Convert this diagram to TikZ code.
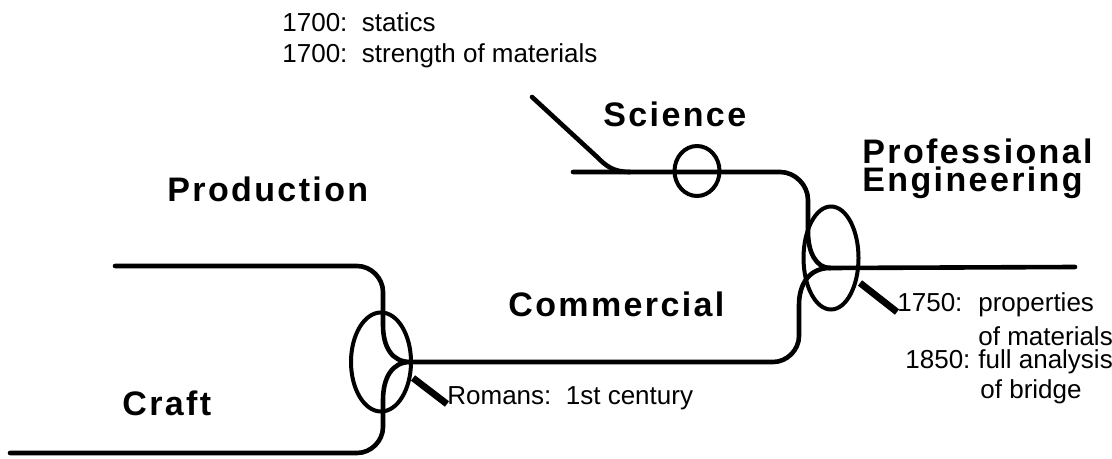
\documentclass[tikz,border=0pt]{standalone}
\usepackage{fontspec}
\setmainfont{Liberation Sans}
\newfontfamily\agfont[LetterSpace=7]{Liberation Sans}
\usetikzlibrary{shapes.geometric}

\begin{document}
\begin{tikzpicture}[x=0.5pt, y=-0.5pt,
        stream/.style={line width=2.3pt, line cap=round},
        hurok/.style={draw, ellipse, line width=2pt, inner sep=0pt},
        datetick/.style={line width=3.4pt},
        branch/.style={font=\agfont\bfseries\fontsize{17}{14}\selectfont, inner sep=0pt, anchor=base west},
        note/.style={font=\fontsize{13}{15.5}\selectfont, inner sep=0pt, anchor=base west}]
                % 0. A kep merete (pixelben)
                \useasboundingbox (0,0) rectangle (1112,459);

                % 1. Csomopontok es kezdopontok
                \coordinate (m-1) at (410,362);
                \coordinate (m-2) at (830,268);
                \coordinate (prod-0) at (115,266);
                \coordinate (craft-0) at (10,453);
                \coordinate (sci-0) at (573,172);
                \coordinate (stat-0) at (532,97);
                \coordinate (eng-1) at (1075,267);

                % 2. Az agak (vonalak)
                \draw[stream] (prod-0) -- (357,266) .. controls (371,266) and (383,278) .. (383,292)
                    -- (383,325) .. controls (383,347) and (392,362) .. (m-1);
                \draw[stream] (craft-0) -- (357,453) .. controls (371,453) and (383,441) .. (383,427)
                    -- (383,400) .. controls (383,378) and (392,362) .. (m-1);
                \draw[stream] (m-1) -- (773,362) .. controls (787,362) and (799,350) .. (799,336)
                    -- (799,305) .. controls (799,283) and (810,268) .. (m-2);
                \draw[stream] (sci-0) -- (780,172) .. controls (795,172) and (808,185) .. (808,200)
                    -- (808,232) .. controls (808,252) and (816,268) .. (m-2);
                \draw[stream] (stat-0) -- (596,156) .. controls (606,166) and (613,172) .. (630,172);
                \draw[stream] (m-2) -- (eng-1);

                % 3. Ovalis karikak a csomopontokon
                \node[hurok, minimum width=30pt, minimum height=49.5pt] (e-1) at (381,362) {};
                \node[hurok, minimum width=27.5pt, minimum height=51.5pt] (e-2) at (831,258) {};
                \node[hurok, minimum width=22.5pt, minimum height=25pt] (e-3) at (697,171) {};

                % 4. Feliratok
                \node[branch] (science) at (603,127) {Science};
                \node[branch] (production) at (167,202) {Production};
                \node[branch] (commercial) at (508,317) {Commercial};
                \node[branch] (craft) at (122,415) {Craft};
                \node[branch, align=left] (professional) at (862,192) {Professional\\Engineering};

                \node[note] (stat-1) at (282,32) {1700:\ \ statics};
                \node[note] (stat-2) at (282,63) {1700:\ \ strength of materials};
                \node[note] (romans) at (447,404) {Romans:\ \ 1st century};
                \node[note] (props-1) at (897,312) {\makebox[40.5pt][l]{1750:}properties};
                \node[note] (props-2) at (978,345) {of materials};
                \node[note] (props-3) at (905,368) {\makebox[36.5pt][l]{1850:}full analysis};
                \node[note] (props-4) at (980,398) {of bridge};

                % 5. Datum-jelolok
                \coordinate (t-1) at (413,378);
                \coordinate (t-2) at (860,283);
                \draw[datetick] (t-1) -- (romans.base west);
                \draw[datetick] (t-2) -- (props-1.base west);
            \end{tikzpicture}
\end{document}
